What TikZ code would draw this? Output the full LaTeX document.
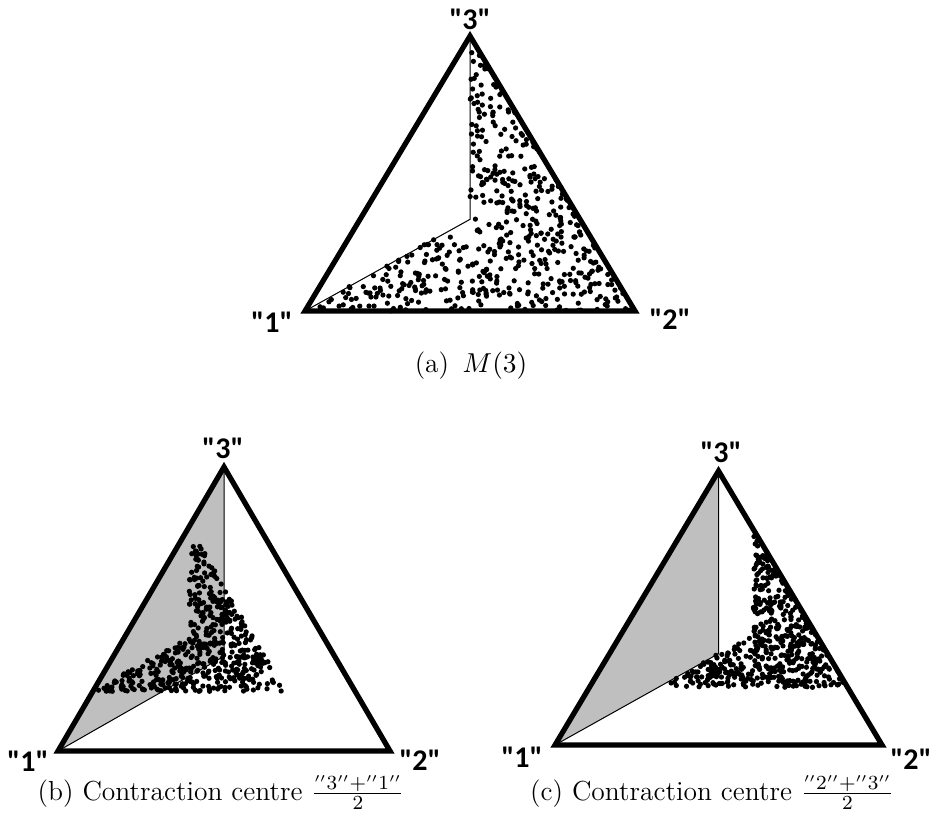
\documentclass[tikz,border=0pt]{standalone}
\usepackage{fontspec}
\newfontfamily\labfont{Carlito}
\tikzset{
  lab/.style={font=\labfont\bfseries\fontsize{12}{14}\selectfont, inner sep=0pt},
  edge/.style={line width=2.1pt, line join=miter},
  thinline/.style={line width=0.4pt},
  captext/.style={font=\fontsize{11}{13}\selectfont, anchor=base, inner sep=0pt},
  grayarea/.style={fill=black!25},
}
\newcommand\ndots{520}
% #1 seed, #2 #3 contraction centre (abstract frame), #4 factor
\newcommand\scatterdots[4]{%
  \pgfmathsetseed{#1}%
  \foreach \i in {1,...,\ndots}{%
    \pgfmathsetmacro\ra{rnd}%
    \pgfmathsetmacro\rb{rnd}%
    \pgfmathsetmacro\rc{rnd}%
    \pgfmathsetmacro\aa{ifthenelse(\ra+\rb>1,1-\ra,\ra)}%
    \pgfmathsetmacro\bb{ifthenelse(\ra+\rb>1,1-\rb,\rb)}%
    \pgfmathsetmacro\px{ifthenelse(\rc<0.5,0.5+0.5*\aa,1-\aa-0.5*\bb)}%
    \pgfmathsetmacro\py{ifthenelse(\rc<0.5,1-\aa-2*\bb/3,\bb/3)}%
    \pgfmathsetmacro\qx{#2+#4*(\px-#2)}%
    \pgfmathsetmacro\qy{#3+#4*(\py-#3)}%
    \fill (\qx,\qy) circle[radius=1.05pt];
  }%
}
\begin{document}
\begin{tikzpicture}[x=0.4pt, y=-0.4pt]
\useasboundingbox (0,0) rectangle (931,827);

% ---------- (a) ----------
\begin{scope}[shift={(305,311)}, x={(132pt,0pt)}, y={(0pt,110pt)}]
  \coordinate (a1) at (0,0);
  \coordinate (a2) at (1,0);
  \coordinate (a3) at (0.5,1);
  \coordinate (ac) at (0.5,1/3);
  \draw[thinline] (a3) -- (ac) -- (a1);
  \scatterdots{11}{0}{0}{1}
  \draw[edge] (a1) -- (a2) -- (a3) -- cycle;
\end{scope}
\node[lab] (la3) at (470,19) {"3"};
\node[lab] (la1) at (272,322) {"1"};
\node[lab] (la2) at (670,319) {"2"};
\node[captext] (capa) at (471,372) {(a) \,$M(3)$};

% ---------- (b) ----------
\begin{scope}[shift={(58,751)}, x={(132.8pt,0pt)}, y={(0pt,113.6pt)}]
  \coordinate (b1) at (0,0);
  \coordinate (b2) at (1,0);
  \coordinate (b3) at (0.5,1);
  \coordinate (bc) at (0.5,1/3);
  \fill[grayarea] (b1) -- (b3) -- (bc) -- cycle;
  \draw[thinline] (b3) -- (bc) -- (b1);
  \scatterdots{23}{0.25}{0.5}{0.58}
  \draw[edge] (b1) -- (b2) -- (b3) -- cycle;
\end{scope}
\node[lab] (lb3) at (223,448) {"3"};
\node[lab] (lb1) at (28,761) {"1"};
\node[lab] (lb2) at (420,760) {"2"};
\node[captext] (capb) at (221,800) {(b) Contraction centre $\frac{''3''+''1''}{2}$};

% ---------- (c) ----------
\begin{scope}[shift={(555,745)}, x={(130.8pt,0pt)}, y={(0pt,109.6pt)}]
  \coordinate (c1) at (0,0);
  \coordinate (c2) at (1,0);
  \coordinate (c3) at (0.5,1);
  \coordinate (cc) at (0.5,1/3);
  \fill[grayarea] (c1) -- (c3) -- (cc) -- cycle;
  \draw[thinline] (c3) -- (cc) -- (c1);
  \scatterdots{37}{0.75}{0.5}{0.58}
  \draw[edge] (c1) -- (c2) -- (c3) -- cycle;
\end{scope}
\node[lab] (lc3) at (721,452) {"3"};
\node[lab] (lc1) at (522,757) {"1"};
\node[lab] (lc2) at (911,759) {"2"};
\node[captext] (capc) at (712,800) {(c) Contraction centre $\frac{''2''+''3''}{2}$};
\end{tikzpicture}
\end{document}
